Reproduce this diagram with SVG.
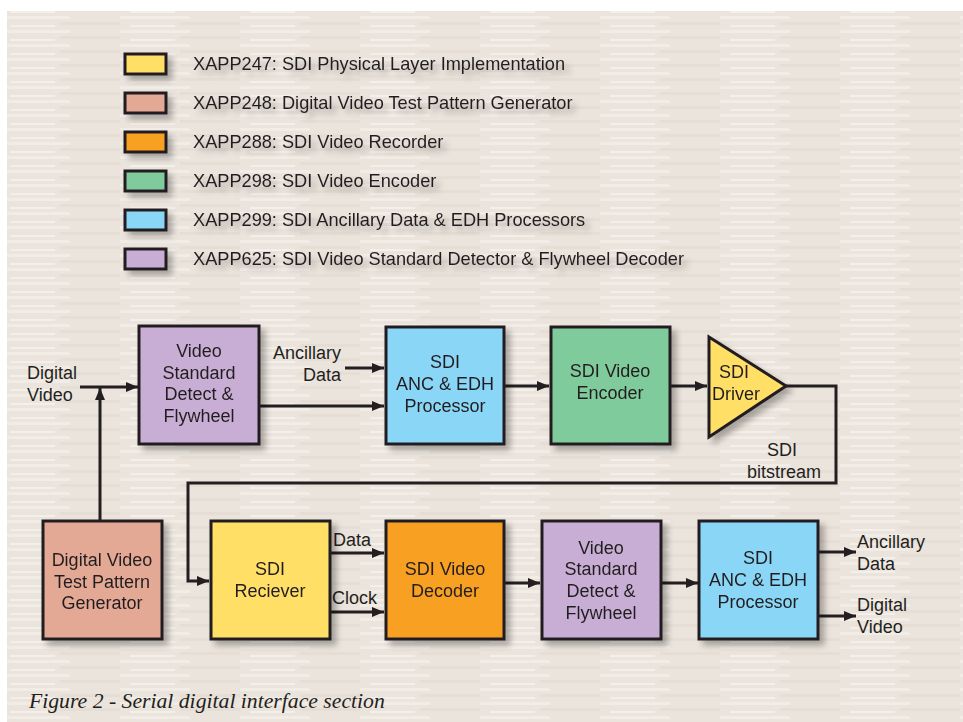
<svg xmlns="http://www.w3.org/2000/svg" width="963" height="722" viewBox="0 0 963 722">
<defs>
<style>
.t{font-family:"Liberation Sans",Arial,sans-serif;font-size:18px;fill:#231f20}
.c{text-anchor:middle}
.lg{font-family:"Liberation Sans",Arial,sans-serif;font-size:18.2px;fill:#231f20}
.box{stroke:#231f20;stroke-width:3}
.ln{fill:none;stroke:#231f20;stroke-width:3}
.cap{font-family:"Liberation Serif","Times New Roman",serif;font-style:italic;font-size:21.7px;fill:#231f20}
</style>
<pattern id="tex" width="120" height="14" patternUnits="userSpaceOnUse">
<rect width="120" height="14" fill="#ebe4dc"/>
<rect y="2" width="70" height="3" fill="#f1ece6"/>
<rect x="60" y="8" width="60" height="3" fill="#e6ded5"/>
<rect x="10" y="11" width="45" height="2" fill="#f3efea"/>
</pattern>
<filter id="sh" x="-20%" y="-20%" width="150%" height="150%">
<feGaussianBlur in="SourceAlpha" stdDeviation="3"/>
<feOffset dx="5" dy="5" result="b"/>
<feComponentTransfer><feFuncA type="linear" slope="0.3"/></feComponentTransfer>
<feMerge><feMergeNode/><feMergeNode in="SourceGraphic"/></feMerge>
</filter>
<marker id="ah" viewBox="0 0 12 10" refX="12" refY="5" markerWidth="12" markerHeight="10" markerUnits="userSpaceOnUse" orient="auto">
<path d="M0,0 L12,5 L0,10 z" fill="#231f20"/>
</marker>
</defs>
<rect width="963" height="722" fill="#ffffff"/>
<rect x="7" y="11" width="956" height="711" fill="url(#tex)"/>

<g id="legend" filter="url(#sh)">
<rect class="box" x="125" y="54" width="41" height="20" fill="#ffdf66"/>
<text class="lg" x="193" y="70">XAPP247: SDI Physical Layer Implementation</text>
<rect class="box" x="125" y="93" width="41" height="20" fill="#e3a995"/>
<text class="lg" x="193" y="109">XAPP248: Digital Video Test Pattern Generator</text>
<rect class="box" x="125" y="132" width="41" height="20" fill="#f7a021"/>
<text class="lg" x="193" y="148">XAPP288: SDI Video Recorder</text>
<rect class="box" x="125" y="171" width="41" height="20" fill="#80cb9b"/>
<text class="lg" x="193" y="187">XAPP298: SDI Video Encoder</text>
<rect class="box" x="125" y="210" width="41" height="20" fill="#8ad6f6"/>
<text class="lg" x="193" y="226">XAPP299: SDI Ancillary Data &amp; EDH Processors</text>
<rect class="box" x="125" y="249" width="41" height="20" fill="#c8aed4"/>
<text class="lg" x="193" y="265">XAPP625: SDI Video Standard Detector &amp; Flywheel Decoder</text>
</g>

<g id="connectors">
<path class="ln" d="M80,387 H138" marker-end="url(#ah)"/>
<path class="ln" d="M100,521 V388" marker-end="url(#ah)"/>
<path class="ln" d="M345,368 H384" marker-end="url(#ah)"/>
<path class="ln" d="M260,406 H384" marker-end="url(#ah)"/>
<path class="ln" d="M505,386 H549" marker-end="url(#ah)"/>
<path class="ln" d="M671,386 H707" marker-end="url(#ah)"/>
<path class="ln" d="M786,386 H836 V483 H188 V581 H209" marker-end="url(#ah)"/>
<path class="ln" d="M331,553 H384" marker-end="url(#ah)"/>
<path class="ln" d="M331,612 H384" marker-end="url(#ah)"/>
<path class="ln" d="M505,583 H540" marker-end="url(#ah)"/>
<path class="ln" d="M662,583 H698" marker-end="url(#ah)"/>
<path class="ln" d="M819,552 H856" marker-end="url(#ah)"/>
<path class="ln" d="M819,616 H856" marker-end="url(#ah)"/>
</g>

<g id="labels">
<text class="t" x="27" y="379">Digital</text>
<text class="t" x="27" y="401">Video</text>
<text class="t" x="341" y="359" text-anchor="end">Ancillary</text>
<text class="t" x="341" y="381" text-anchor="end">Data</text>
<text class="t c" x="782" y="456">SDI</text>
<text class="t c" x="784" y="478">bitstream</text>
<text class="t" x="333" y="546">Data</text>
<text class="t" x="332" y="604">Clock</text>
<text class="t" x="857" y="548">Ancillary</text>
<text class="t" x="857" y="570">Data</text>
<text class="t" x="857" y="611">Digital</text>
<text class="t" x="857" y="633">Video</text>
</g>

<g id="vsd1" filter="url(#sh)">
<rect class="box" x="139" y="326" width="120" height="118" fill="#c8aed4"/>
<text class="t c" x="199" y="357">Video</text>
<text class="t c" x="199" y="379">Standard</text>
<text class="t c" x="199" y="400">Detect &amp;</text>
<text class="t c" x="199" y="422">Flywheel</text>
</g>
<g id="anc1" filter="url(#sh)">
<rect class="box" x="386" y="327" width="118" height="117" fill="#8ad6f6"/>
<text class="t c" x="445" y="368">SDI</text>
<text class="t c" x="445" y="390">ANC &amp; EDH</text>
<text class="t c" x="445" y="412">Processor</text>
</g>
<g id="encoder" filter="url(#sh)">
<rect class="box" x="551" y="327" width="119" height="117" fill="#80cb9b"/>
<text class="t c" x="610" y="377">SDI Video</text>
<text class="t c" x="610" y="399">Encoder</text>
</g>
<g id="driver" filter="url(#sh)">
<path class="box" d="M709,337 L786,386 L709,437 z" fill="#ffdf66"/>
<text class="t c" x="734" y="378">SDI</text>
<text class="t c" x="736" y="400">Driver</text>
</g>
<g id="generator" filter="url(#sh)">
<rect class="box" x="43" y="521" width="119" height="118" fill="#e3a995"/>
<text class="t c" x="102" y="566">Digital Video</text>
<text class="t c" x="102" y="588">Test Pattern</text>
<text class="t c" x="102" y="609">Generator</text>
</g>
<g id="receiver" filter="url(#sh)">
<rect class="box" x="211" y="521" width="119" height="118" fill="#ffdf66"/>
<text class="t c" x="270" y="575">SDI</text>
<text class="t c" x="270" y="597">Reciever</text>
</g>
<g id="decoder" filter="url(#sh)">
<rect class="box" x="386" y="521" width="118" height="118" fill="#f7a021"/>
<text class="t c" x="445" y="575">SDI Video</text>
<text class="t c" x="445" y="597">Decoder</text>
</g>
<g id="vsd2" filter="url(#sh)">
<rect class="box" x="542" y="521" width="119" height="118" fill="#c8aed4"/>
<text class="t c" x="601" y="554">Video</text>
<text class="t c" x="601" y="575">Standard</text>
<text class="t c" x="601" y="597">Detect &amp;</text>
<text class="t c" x="601" y="619">Flywheel</text>
</g>
<g id="anc2" filter="url(#sh)">
<rect class="box" x="699" y="521" width="119" height="118" fill="#8ad6f6"/>
<text class="t c" x="758" y="564">SDI</text>
<text class="t c" x="758" y="586">ANC &amp; EDH</text>
<text class="t c" x="758" y="608">Processor</text>
</g>

<text class="cap" x="29" y="708">Figure 2 - Serial digital interface section</text>
</svg>
